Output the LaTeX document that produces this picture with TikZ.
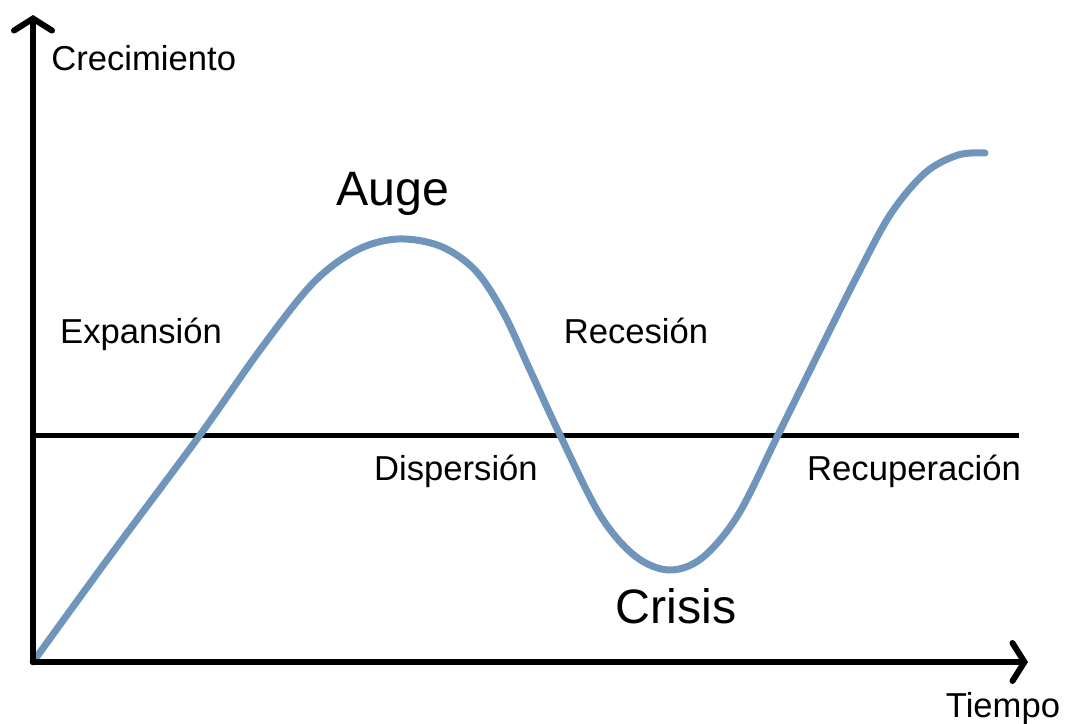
\documentclass[tikz,border=0pt]{standalone}
\usepackage{fontspec}
\setmainfont{Liberation Sans}
\usetikzlibrary{arrows.meta}
\definecolor{CurveColor}{HTML}{7095BA}
\tikzstyle{axis_line}=[line width=1.2mm,
                       line cap=round,
                       -{Straight Barb[length=2.4mm, width=7.6mm, line cap=round]}]
\tikzstyle{mid_line}=[line width=1mm]
\tikzstyle{cycle_curve}=[line width=1.4mm,
                         draw=CurveColor,
                         line cap=round,
                         line join=round]
\tikzstyle{label_text}=[anchor=base,
                        inner sep=0pt,
                        font=\fontsize{19.7}{24}\selectfont]
\tikzstyle{label_big}=[anchor=base,
                       inner sep=0pt,
                       font=\fontsize{27.5}{32}\selectfont]

\begin{document}
\begin{tikzpicture}[x=0.2mm, y=-0.2mm]
    \useasboundingbox (0,0) rectangle (1065,724);

    \coordinate (origin) at (33,662);
    \coordinate (y_top) at (33,15);
    \coordinate (x_end) at (1028,662);
    \coordinate (mid_left) at (33,435);
    \coordinate (mid_right) at (1019,435);

    \draw[mid_line] (mid_left) -- (mid_right);

    \draw[cycle_curve] plot[smooth, tension=0.55] coordinates {
      (33,662) (110,556) (200,435) (260,350) (313,283) (357,250)
      (398,239) (440,246) (475,270) (503,312) (530,370) (560,435)
      (600,515) (635,556) (669,570) (702,558) (738,515) (778,435)
      (820,350) (855,280) (890,215) (925,173) (958,155) (985,153)
    };

    \draw[axis_line] (origin) -- (y_top);
    \draw[axis_line] (origin) -- (x_end);

    \node at (51,70) (growth_name) [label_text, anchor=base west] {Crecimiento};
    \node at (1003,717) (time_name) [label_text] {Tiempo};

    \node at (393,205) (peak_name) [label_big] {Auge};
    \node at (676,623) (crisis_name) [label_big] {Crisis};

    \foreach \x/\y/\name/\txt in {141/343/expansion/Expansión,
                                 636/343/recession/Recesión,
                                 456/480/dispersion/Dispersión,
                                 914/480/recovery/Recuperación} {
      \node at (\x,\y) (\name_name) [label_text] {\txt};
    }
\end{tikzpicture}
\end{document}
